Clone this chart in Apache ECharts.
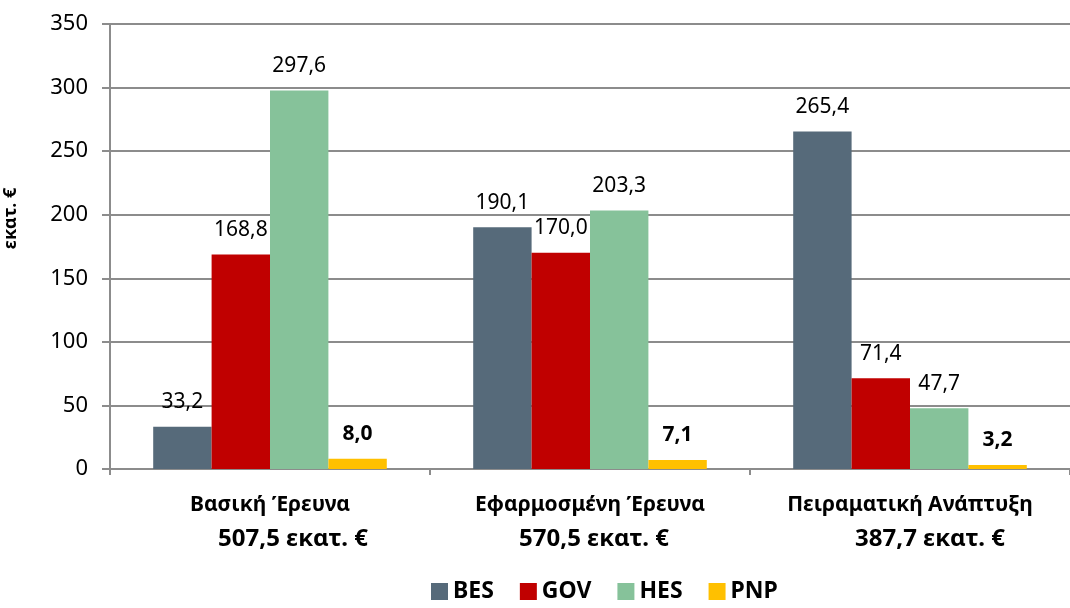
<!DOCTYPE html>
<html>
<head>
<meta charset="utf-8">
<script src="https://cdn.jsdelivr.net/npm/echarts@6/dist/echarts.min.js"></script>
<style>
  html, body { margin: 0; padding: 0; background: #fff; }
  #main { width: 1070px; height: 608px; }
</style>
</head>
<body>
<div id="main"></div>
<script>
// κατηγορίες και σύνολα
const categories = ['Βασική Έρευνα', 'Εφαρμοσμένη Έρευνα', 'Πειραματική Ανάπτυξη'];
const totals = ['507,5', '570,5', '387,7'];

// τιμές ανά τομέα (εκατ. €)
const bes = [33.2, 190.1, 265.4];
const gov = [168.8, 170.0, 71.4];
const hes = [297.6, 203.3, 47.7];
const pnp = [8.0, 7.1, 3.2];

const seriesNames = ['BES', 'GOV', 'HES', 'PNP'];
const colors = ['#566a7a', '#c00000', '#86c29a', '#ffc000'];

const font = 'Noto Sans';

const chart = echarts.init(document.getElementById('main'));

function fmt(v) {
  return v.toFixed(1).replace('.', ',');
}

function makeSeries(name, data, idx) {
  return {
    name: name,
    type: 'bar',
    data: data,
    barGap: '0%',
    barCategoryGap: '27%',
    itemStyle: { color: colors[idx] },
    label: {
      show: true,
      position: 'top',
      distance: 14,
      fontFamily: font,
      fontSize: 21,
      color: '#000',
      fontWeight: name === 'PNP' ? 'bold' : 'normal',
      formatter: p => fmt(p.value)
    }
  };
}

// μετατόπιση της δεύτερης γραμμής κάθε κατηγορίας (όπως στο πρωτότυπο)
const totalStyle = { fontFamily: font, fontSize: 24, fontWeight: 'bold', color: '#000', lineHeight: 36 };

const option = {
  backgroundColor: '#ffffff',
  animation: false,
  textStyle: { fontFamily: font },
  legend: {
    bottom: 0,
    left: 426,
    itemWidth: 17,
    itemHeight: 17,
    itemGap: 26,
    icon: 'rect',
    textStyle: { fontFamily: font, fontSize: 23, fontWeight: 'bold', color: '#000' },
    data: seriesNames
  },
  grid: {
    left: 110,
    right: 0,
    top: 24,
    bottom: 139,
    outerBoundsMode: 'none'
  },
  xAxis: {
    type: 'category',
    data: categories,
    axisLine: { lineStyle: { color: '#8c8c8c', width: 2 } },
    axisTick: { show: true, length: 6, lineStyle: { color: '#8c8c8c', width: 2 } },
    axisLabel: {
      margin: 20,
      interval: 0,
      formatter: (v, i) => '{a|' + v + '}\n{b' + i + '|' + totals[i] + ' εκατ. €}',
      rich: {
        a: { fontFamily: font, fontSize: 21, fontWeight: 'bold', color: '#000', lineHeight: 32 },
        b0: Object.assign({ padding: [0, 0, 0, 46] }, totalStyle),
        b1: Object.assign({ padding: [0, 0, 0, 8] }, totalStyle),
        b2: Object.assign({ padding: [0, 0, 0, 40] }, totalStyle)
      }
    }
  },
  yAxis: {
    type: 'value',
    min: 0,
    max: 350,
    interval: 50,
    name: 'εκατ. €',
    nameLocation: 'middle',
    nameGap: 90,
    nameRotate: 90,
    nameTextStyle: { fontFamily: font, fontSize: 18, fontWeight: 'bold', color: '#000', padding: [0, 0, 0, 56] },
    axisLine: { show: true, lineStyle: { color: '#8c8c8c', width: 2 } },
    axisTick: { show: true, length: 8, lineStyle: { color: '#8c8c8c', width: 2 } },
    axisLabel: { fontFamily: font, fontSize: 22, color: '#000', margin: 22 },
    splitLine: { show: true, lineStyle: { color: '#8c8c8c', width: 2 } }
  },
  series: [
    makeSeries('BES', bes, 0),
    makeSeries('GOV', gov, 1),
    makeSeries('HES', hes, 2),
    makeSeries('PNP', pnp, 3)
  ]
};

chart.setOption(option);
</script>
</body>
</html>
